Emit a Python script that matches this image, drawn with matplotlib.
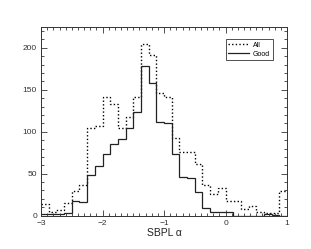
import matplotlib
matplotlib.use("Agg")
import matplotlib.pyplot as plt
from matplotlib.ticker import MultipleLocator

bin_edges = [-3.0, -2.875, -2.75, -2.625, -2.5, -2.375, -2.25, -2.125, -2.0,
             -1.875, -1.75, -1.625, -1.5, -1.375, -1.25, -1.125, -1.0,
             -0.875, -0.75, -0.625, -0.5, -0.375, -0.25, -0.125, 0.0,
             0.125, 0.25, 0.375, 0.5, 0.625, 0.75, 0.875, 1.0]
all_counts = [14, 4, 7, 15, 29, 37, 105, 107, 142, 133, 104, 117, 142, 205, 192, 146,
              142, 92, 76, 76, 62, 37, 26, 33, 18, 18, 8, 11, 4, 3, 3, 29]
good_counts = [2, 2, 2, 3, 18, 16, 48, 59, 73, 85, 91, 104, 123, 178, 158, 112,
               110, 73, 46, 45, 28, 9, 4, 4, 4, 0, 0, 0, 0, 2, 1, 0]
series_labels = ["All", "Good"]
x_label = "SBPL α"

plt.rcParams['font.family'] = ['Liberation Sans', 'DejaVu Sans']

fig = plt.figure(figsize=(3.11, 2.49), dpi=100)
ax = fig.add_axes([0.132, 0.134, 0.791, 0.758])

ax.stairs(all_counts, bin_edges, color='black', linestyle=(0, (1, 1.6)), linewidth=1.0,
          label=series_labels[0], baseline=None)
ax.stairs(good_counts, bin_edges, color='#222222', linestyle='-', linewidth=0.9,
          label=series_labels[1], baseline=None)

ax.set_xlim(-3, 1)
ax.set_ylim(0, 225)

ax.xaxis.set_major_locator(MultipleLocator(1))
ax.xaxis.set_minor_locator(MultipleLocator(0.1))
ax.yaxis.set_major_locator(MultipleLocator(50))
ax.yaxis.set_minor_locator(MultipleLocator(10))
ax.tick_params(which='both', direction='in', top=True, right=True,
               labelsize=6, colors='#333333', width=0.6)
ax.tick_params(which='major', length=4)
ax.tick_params(which='minor', length=2)
ax.tick_params(axis='x', which='both', pad=3.5)
ax.tick_params(axis='y', which='both', pad=3)
for s in ax.spines.values():
    s.set_linewidth(0.7)
    s.set_color('#333333')

ax.set_xlabel(x_label, fontsize=7.5, labelpad=0.5, color='#222222')

leg = ax.legend(loc='upper right', fontsize=5, frameon=True, fancybox=False,
                handlelength=3, borderpad=0.4, labelspacing=0.3, handletextpad=0.5,
                bbox_to_anchor=(0.955, 0.955))
leg.get_frame().set_edgecolor('black')
leg.get_frame().set_linewidth(0.6)

fig.savefig("out.png", dpi=100)
